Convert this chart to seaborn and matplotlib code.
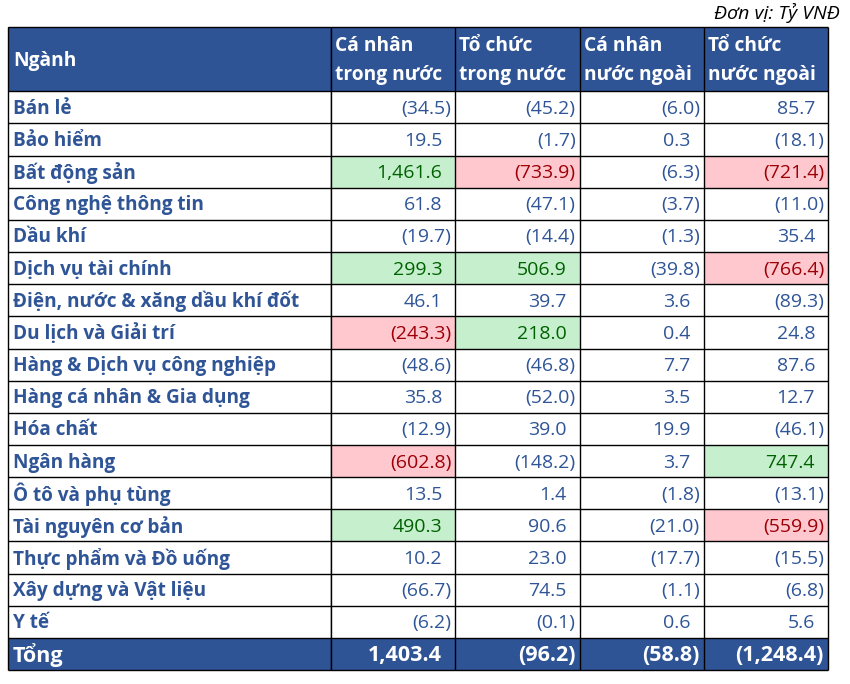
import numpy as np
import matplotlib
matplotlib.use("Agg")
import matplotlib.pyplot as plt
import seaborn as sns
from matplotlib.colors import ListedColormap
from matplotlib.transforms import ScaledTranslation

# Dữ liệu (Tỷ VNĐ)
nganh = ["Bán lẻ", "Bảo hiểm", "Bất động sản", "Công nghệ thông tin", "Dầu khí",
         "Dịch vụ tài chính", "Điện, nước & xăng dầu khí đốt", "Du lịch và Giải trí",
         "Hàng & Dịch vụ công nghiệp", "Hàng cá nhân & Gia dụng", "Hóa chất",
         "Ngân hàng", "Ô tô và phụ tùng", "Tài nguyên cơ bản", "Thực phẩm và Đồ uống",
         "Xây dựng và Vật liệu", "Y tế"]
cot = ["Cá nhân\ntrong nước", "Tổ chức\ntrong nước", "Cá nhân\nnước ngoài", "Tổ chức\nnước ngoài"]
ca_nhan_tn = [-34.5, 19.5, 1461.6, 61.8, -19.7, 299.3, 46.1, -243.3, -48.6, 35.8,
              -12.9, -602.8, 13.5, 490.3, 10.2, -66.7, -6.2]
to_chuc_tn = [-45.2, -1.7, -733.9, -47.1, -14.4, 506.9, 39.7, 218.0, -46.8, -52.0,
              39.0, -148.2, 1.4, 90.6, 23.0, 74.5, -0.1]
ca_nhan_nn = [-6.0, 0.3, -6.3, -3.7, -1.3, -39.8, 3.6, 0.4, 7.7, 3.5,
              19.9, 3.7, -1.8, -21.0, -17.7, -1.1, 0.6]
to_chuc_nn = [85.7, -18.1, -721.4, -11.0, 35.4, -766.4, -89.3, 24.8, 87.6, 12.7,
              -46.1, 747.4, -13.1, -559.9, -15.5, -6.8, 5.6]
tong = [1403.4, -96.2, -58.8, -1248.4]

vals = np.array([ca_nhan_tn, to_chuc_tn, ca_nhan_nn, to_chuc_nn]).T
n = len(nganh)
nrow = n + 3  # 2 dong tieu de + du lieu + tong

# mau
XANH_DAM = "#2F5496"
CHU = "#2F5597"
NEN_XANH, CHU_XANH = "#C6EFCE", "#006100"
NEN_DO, CHU_DO = "#FFC7CE", "#9C0006"
nguong = 200

# ma mau cho o: 0 trang, 1 xanh, 2 do, 3 tieu de
ma = np.zeros((nrow, 4))
ma[:2] = 3
ma[-1] = 3
ma[2:n + 2][vals > nguong] = 1
ma[2:n + 2][vals < -nguong] = 2
ma_ten = np.zeros((nrow, 1))
ma_ten[:2] = 3
ma_ten[-1] = 3

sns.set_theme(style="white")
plt.rcParams["font.family"] = ["Open Sans", "DejaVu Sans"]

W, H = 850, 684
fig = plt.figure(figsize=(8.5, 6.84), dpi=100)


def khung(x0, x1, y0, y1):
    return [x0 / W, 1 - y1 / H, (x1 - x0) / W, (y1 - y0) / H]


ax_n = fig.add_axes(khung(8, 331, 27, 670))
ax_v = fig.add_axes(khung(331, 828, 27, 670))
cmap = ListedColormap(["white", NEN_XANH, NEN_DO, XANH_DAM])
for ax, m in [(ax_n, ma_ten), (ax_v, ma)]:
    sns.heatmap(m, ax=ax, cmap=cmap, vmin=-0.5, vmax=3.5, cbar=False,
                xticklabels=False, yticklabels=False, linewidths=0)
    nc = m.shape[1]
    ys = [0] + list(range(2, nrow + 1))
    ax.hlines(ys, 0, nc, color="black", lw=1.0, clip_on=False)
    ax.vlines(range(nc + 1), 0, nrow, color="black", lw=1.0, clip_on=False)
    ax.axis("off")


def dich(ax, px, py=-1.5):
    return ax.transData + ScaledTranslation(px / 100, py / 100, fig.dpi_scale_trans)


def so(v):
    s = f"{abs(v):,.1f}"
    return f"({s})" if v < 0 else s


fs_ten = 13.7
fs_so = 14
fs_td = 13.8
fs_tong = 15.5
# tieu de
ax_n.text(0, 1, "Ngành", transform=dich(ax_n, 5), ha="left", va="center",
          color="white", weight="bold", fontsize=fs_td)
for j, c in enumerate(cot):
    ax_v.text(j, 1, c, transform=dich(ax_v, 4), ha="left", va="center",
              color="white", weight="bold", fontsize=fs_td, linespacing=1.6)

# du lieu
for i, ten in enumerate(nganh):
    y = i + 2.5
    ax_n.text(0, y, ten, transform=dich(ax_n, 5), ha="left", va="center",
              color=CHU, weight="bold", fontsize=fs_ten)
    for j in range(4):
        v = vals[i, j]
        mau = CHU_XANH if v > nguong else CHU_DO if v < -nguong else CHU
        ax_v.text(j + 1, y, so(v), transform=dich(ax_v, -4 if v < 0 else -13),
                  ha="right", va="center", color=mau, fontsize=fs_so)

# tong
ax_n.text(0, nrow - 0.5, "Tổng", transform=dich(ax_n, 5), ha="left", va="center",
          color="white", weight="bold", fontsize=fs_tong)
for j, v in enumerate(tong):
    ax_v.text(j + 1, nrow - 0.5, so(v), transform=dich(ax_v, -4 if v < 0 else -13),
              ha="right", va="center", color="white", weight="bold", fontsize=fs_tong)

fig.text(840 / W, 1 - 13 / H, "Đơn vị: Tỷ VNĐ", ha="right", va="center",
         style="italic", color="black", fontsize=14)

fig.savefig("out.png", dpi=100)
